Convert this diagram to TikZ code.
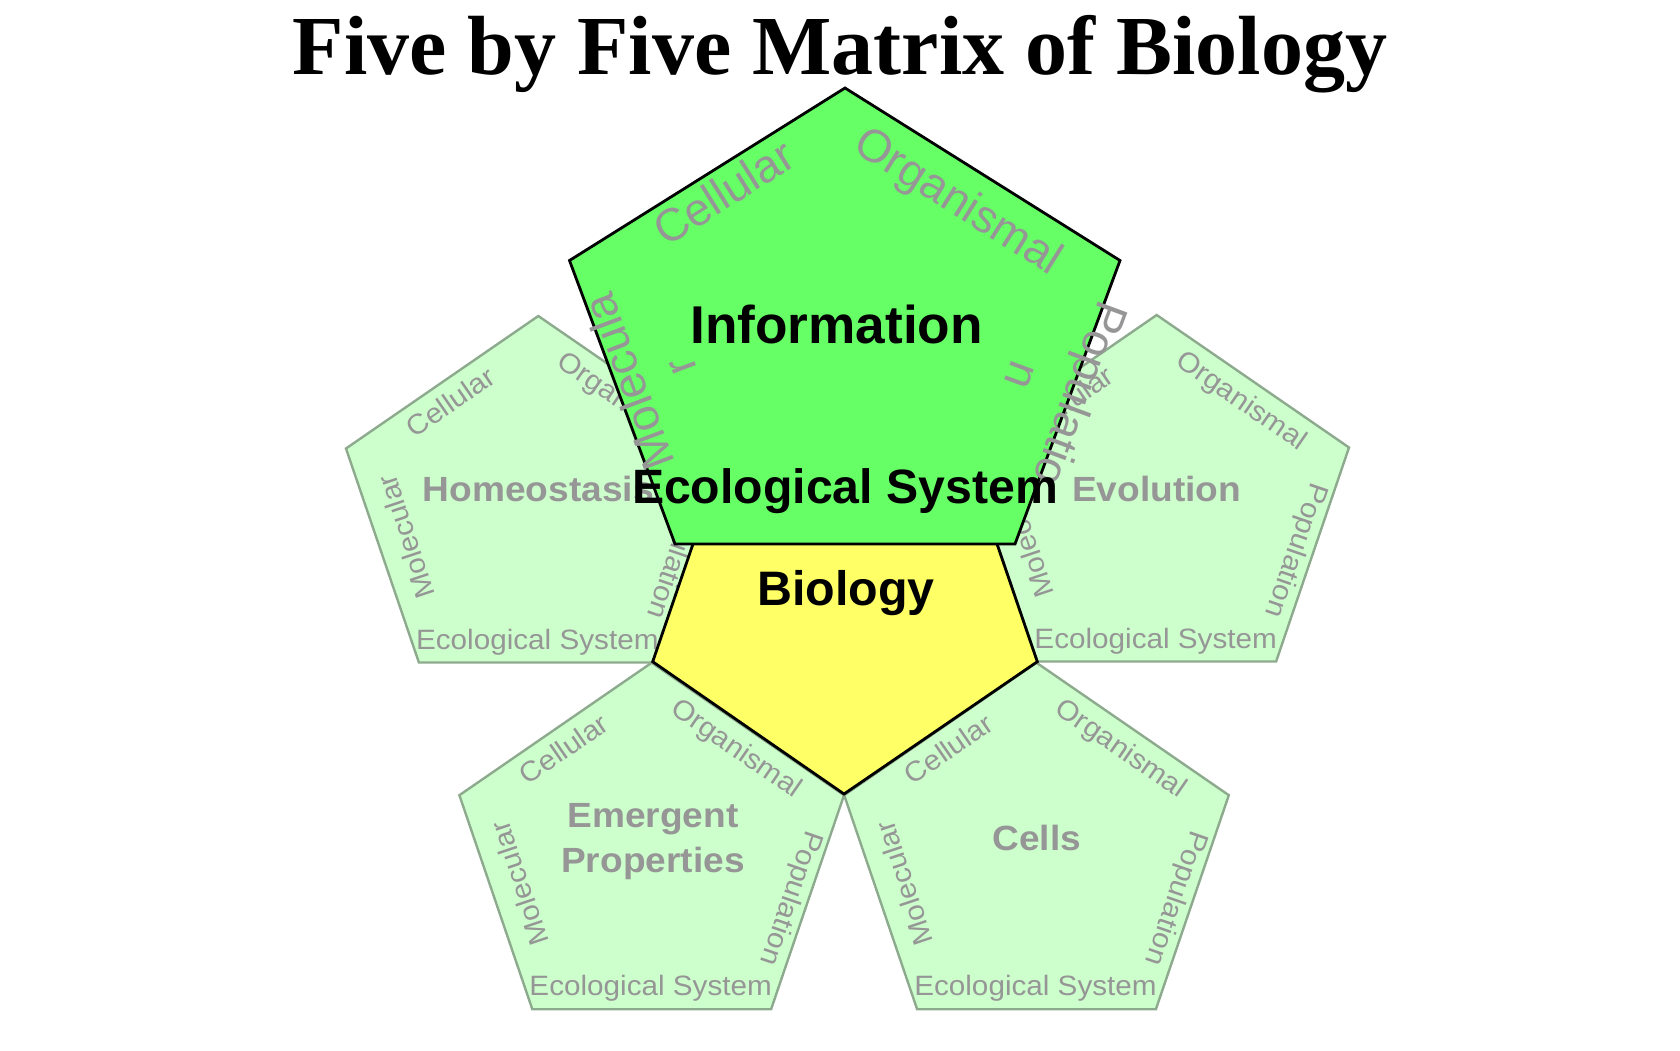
\documentclass[tikz,border=0pt]{standalone}
\usepackage{fontspec}
\setmainfont{Liberation Sans}
\newfontfamily\titlefont{Liberation Serif}
\newfontfamily\lightfont[FakeStretch=1.06]{Liberation Sans}
\definecolor{bigGreen}{HTML}{66FF66}
\definecolor{paleGreen}{HTML}{CCFFCC}
\definecolor{paleBorder}{RGB}{142,170,142}
\definecolor{bioYellow}{HTML}{FFFF66}
\definecolor{lblGray}{RGB}{150,150,150}
\tikzset{
  lightpent/.style={fill=paleGreen, draw=paleBorder, line width=1.2pt, line join=miter},
  darkpent/.style={draw=black, line width=1.4pt, line join=miter},
  smalllbl/.style={text=lblGray, font=\lightfont\fontsize{14}{16}\selectfont, inner sep=0pt},
  mainlbl/.style={text=lblGray, font=\lightfont\bfseries\fontsize{17.5}{21}\selectfont, inner sep=0pt, anchor=base},
  biglbl/.style={text=lblGray, font=\fontsize{23}{27}\selectfont, inner sep=0pt},
  blacklbl/.style={text=black, inner sep=0pt, anchor=base}
}
\newcommand\lightpentagon[3]{%
  \begin{scope}[shift={(#2,#3)}]
    \draw[lightpent] (0,0) -- (192.3,132.5) -- (119.4,346.5) -- (-119.4,346.5) -- (-192.3,132.5) -- cycle;
    \node[smalllbl, rotate=34.6] (#1-cel) at (-88,86) {Cellular};
    \node[smalllbl, rotate=-34.6] (#1-org) at (84,87) {Organismal};
    \node[smalllbl, rotate=108.5] (#1-mol) at (-132.5,221) {Molecular};
    \node[smalllbl, rotate=-109] (#1-pop) at (138.5,235) {Population};
    \node[smalllbl, anchor=base] (#1-eco) at (-1,333) {Ecological System};
  \end{scope}}
\begin{document}
\begin{tikzpicture}[x=0.5pt,y=-0.5pt]
\useasboundingbox[fill=white] (0,0) rectangle (1680,1050);

% title
\node[blacklbl, font=\titlefont\bfseries\fontsize{42}{48}\selectfont] (title) at (840,74.3) {Five by Five Matrix of Biology};

% light pentagons
\lightpentagon{homeo}{538.3}{316}
\lightpentagon{evo}{1156.7}{315}
\lightpentagon{emer}{651.7}{662.7}
\lightpentagon{cells}{1036.5}{662.7}

\node[mainlbl] (homeoT) at (538.3,501.7) {Homeostasis};
\node[mainlbl] (evoT) at (1156.7,501.7) {Evolution};
\node[mainlbl] (emerT1) at (653,827.7) {Emergent};
\node[mainlbl] (emerT2) at (653,872.3) {Properties};
\node[mainlbl] (cellsT) at (1036.7,850) {Cells};

% yellow centre pentagon
\draw[darkpent, fill=bioYellow] (652.7,661.7) -- (844,794) -- (1037.3,661.7) -- (964,447.5) -- (726,447.5) -- cycle;
\node[blacklbl, font=\bfseries\fontsize{24.2}{28}\selectfont] (bio) at (845.8,605) {Biology};

% big green pentagon
\draw[darkpent, fill=bigGreen] (845,88) -- (1120,260.5) -- (1015,544) -- (675,544) -- (569.5,260.5) -- cycle;
\node[biglbl, rotate=32.2] (gcel) at (723.3,192.3) {Cellular};
\node[biglbl, rotate=-32.1] (gorg) at (957.3,203.3) {Organismal};
\node[biglbl, rotate=110.5] (gmol) at (628,382) {Molecula};
\node[biglbl, rotate=110.5] (gmolr) at (683,366) {r};
\node[biglbl, rotate=-110.3] (gpop) at (1077,393) {Populatio};
\node[biglbl, rotate=-110.3] (gpopn) at (1020,375) {n};
\node[blacklbl, font=\bfseries\fontsize{26.6}{31}\selectfont] (info) at (836.5,343.3) {Information};
\node[blacklbl, font=\bfseries\fontsize{24.1}{28}\selectfont] (geco) at (845,503.3) {Ecological System};
\end{tikzpicture}
\end{document}
